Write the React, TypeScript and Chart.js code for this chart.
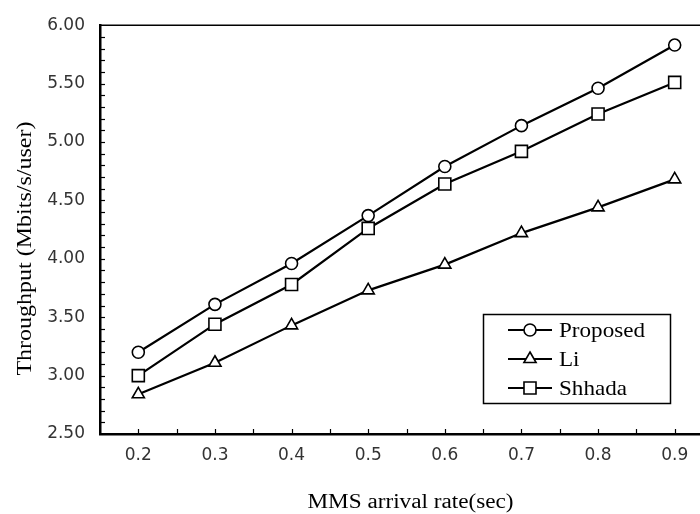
import React, { useEffect, useRef } from 'react';
import { Chart, registerables } from 'chart.js';

Chart.register(...registerables);

const categories = ['0.2', '0.3', '0.4', '0.5', '0.6', '0.7', '0.8', '0.9'];
const proposed = [3.2, 3.61, 3.96, 4.37, 4.79, 5.14, 5.46, 5.83];
const li = [2.84, 3.11, 3.43, 3.73, 3.95, 4.22, 4.44, 4.68];
const shhada = [3.0, 3.44, 3.78, 4.26, 4.64, 4.92, 5.24, 5.51];
const seriesNames = ['Proposed', 'Li', 'Shhada'];
const seriesValues = [proposed, li, shhada];
const markerStyles = ['circle', 'triangle', 'rect'];
const markerRadii = [6, 7, 8.5];
const yMin = 2.5;
const yMax = 6.0;
const yMajorStep = 0.5;
const yMinorStep = 0.1;
const xTitle = 'MMS arrival rate(sec)';
const yTitle = 'Throughput (Mbits/s/user)';

const SERIF = '"Liberation Serif", "Times New Roman", serif';
const SANS = '"DejaVu Sans", sans-serif';

function drawMarker(ctx: CanvasRenderingContext2D, style: string, r: number, x: number, y: number) {
  ctx.beginPath();
  if (style === 'circle') {
    ctx.arc(x, y, r, 0, Math.PI * 2);
  } else if (style === 'triangle') {
    let a = 0;
    ctx.moveTo(x + Math.sin(a) * r, y - Math.cos(a) * r);
    a += (2 * Math.PI) / 3;
    ctx.lineTo(x + Math.sin(a) * r, y - Math.cos(a) * r);
    a += (2 * Math.PI) / 3;
    ctx.lineTo(x + Math.sin(a) * r, y - Math.cos(a) * r);
    ctx.closePath();
  } else {
    const s = r * Math.SQRT1_2;
    ctx.rect(x - s, y - s, 2 * s, 2 * s);
  }
  ctx.fillStyle = '#fff';
  ctx.fill();
  ctx.lineWidth = 1.6;
  ctx.strokeStyle = '#000';
  ctx.stroke();
}

const framePlugin = {
  id: 'frameAndDecor',
  afterDraw(chart: any) {
    const ctx: CanvasRenderingContext2D = chart.ctx;
    const { left, top, right, bottom } = chart.chartArea;
    const xs = chart.scales.x;
    const ys = chart.scales.y;
    ctx.save();
    ctx.strokeStyle = '#000';
    // top border
    ctx.lineWidth = 1.6;
    ctx.beginPath();
    ctx.moveTo(left, top);
    ctx.lineTo(right, top);
    ctx.stroke();
    // y minor ticks (inward)
    ctx.lineWidth = 1.2;
    const nMinor = Math.round((yMax - yMin) / yMinorStep);
    for (let i = 1; i < nMinor; i++) {
      const y = Math.round(ys.getPixelForValue(yMin + i * yMinorStep)) + 0.5;
      ctx.beginPath();
      ctx.moveTo(left, y);
      ctx.lineTo(left + 5, y);
      ctx.stroke();
    }
    // x ticks (inward) at centers and boundaries
    for (let i = 0; i < categories.length; i++) {
      const xc = Math.round(xs.getPixelForValue(i)) + 0.5;
      const xb = Math.round((xs.getPixelForValue(i) + xs.getPixelForValue(i + 1)) / 2) + 0.5;
      [xc, xb].forEach((x) => {
        ctx.beginPath();
        ctx.moveTo(x, bottom);
        ctx.lineTo(x, bottom - 5);
        ctx.stroke();
      });
    }
    // axis titles
    ctx.fillStyle = '#000';
    ctx.font = `20px ${SERIF}`;
    ctx.textAlign = 'center';
    ctx.textBaseline = 'alphabetic';
    ctx.save();
    ctx.translate((left + right) / 2 + 4, bottom + 74);
    ctx.scale(1.16, 1);
    ctx.fillText(xTitle, 0, 0);
    ctx.restore();
    ctx.save();
    ctx.translate(31, (top + bottom) / 2 + 19);
    ctx.rotate(-Math.PI / 2);
    ctx.scale(1.2, 1);
    ctx.fillText(yTitle, 0, 0);
    ctx.restore();
    // legend
    const bx = 483.5, by = 314.5, bw = 187, bh = 89;
    ctx.lineWidth = 1.5;
    ctx.strokeRect(bx, by, bw, bh);
    const rows = [330, 359, 388];
    seriesNames.forEach((name, i) => {
      const y = rows[i];
      ctx.lineWidth = 2;
      ctx.strokeStyle = '#000';
      ctx.beginPath();
      ctx.moveTo(508, y);
      ctx.lineTo(552, y);
      ctx.stroke();
      drawMarker(ctx, markerStyles[i], markerRadii[i], 530, y);
      ctx.save();
      ctx.fillStyle = '#000';
      ctx.font = `21px ${SERIF}`;
      ctx.textAlign = 'left';
      ctx.textBaseline = 'alphabetic';
      ctx.translate(559, y + 7);
      ctx.scale(1.1, 1);
      ctx.fillText(name, 0, 0);
      ctx.restore();
    });
    ctx.restore();
  },
};

export default function App() {
  const ref = useRef<HTMLCanvasElement | null>(null);
  useEffect(() => {
    if (!ref.current) return;
    const chart = new Chart(ref.current, {
      type: 'line',
      data: {
        labels: categories,
        datasets: seriesValues.map((vals, i) => ({
          label: seriesNames[i],
          data: vals,
          borderColor: '#000',
          backgroundColor: '#fff',
          borderWidth: 2.2,
          pointStyle: markerStyles[i] as any,
          pointRadius: markerRadii[i],
          pointBorderWidth: 1.6,
          pointBackgroundColor: '#fff',
          pointBorderColor: '#000',
          tension: 0,
          fill: false,
        })),
      },
      options: {
        responsive: false,
        animation: false,
        events: [],
        layout: { padding: { left: 0, top: 20, right: 17, bottom: 0 } },
        plugins: {
          legend: { display: false },
          tooltip: { enabled: false },
        },
        scales: {
          x: {
            type: 'category',
            offset: true,
            grid: { display: false, drawTicks: false },
            border: { display: true, color: '#000', width: 2.5 },
            ticks: {
              font: { family: SANS, size: 17 },
              color: '#333',
              padding: 11,
              maxRotation: 0,
            },
            afterFit: (s: any) => {
              s.height = 80;
            },
          },
          y: {
            type: 'linear',
            min: yMin,
            max: yMax,
            grid: { display: false, drawTicks: false },
            border: { display: true, color: '#000', width: 2.5 },
            ticks: {
              stepSize: yMajorStep,
              font: { family: SANS, size: 17 },
              color: '#333',
              padding: 15,
              callback: (v: any) => Number(v).toFixed(2),
            },
            afterFit: (s: any) => {
              s.width = 100;
            },
          },
        },
      },
      plugins: [framePlugin],
    });
    return () => chart.destroy();
  }, []);
  return (
    <div
      style={{
        position: 'fixed',
        left: 0,
        top: 0,
        width: 700,
        height: 514,
        overflow: 'hidden',
        background: '#fff',
      }}
    >
      <canvas ref={ref} width={730} height={514} style={{ width: 730, height: 514, display: 'block' }} />
    </div>
  );
}
